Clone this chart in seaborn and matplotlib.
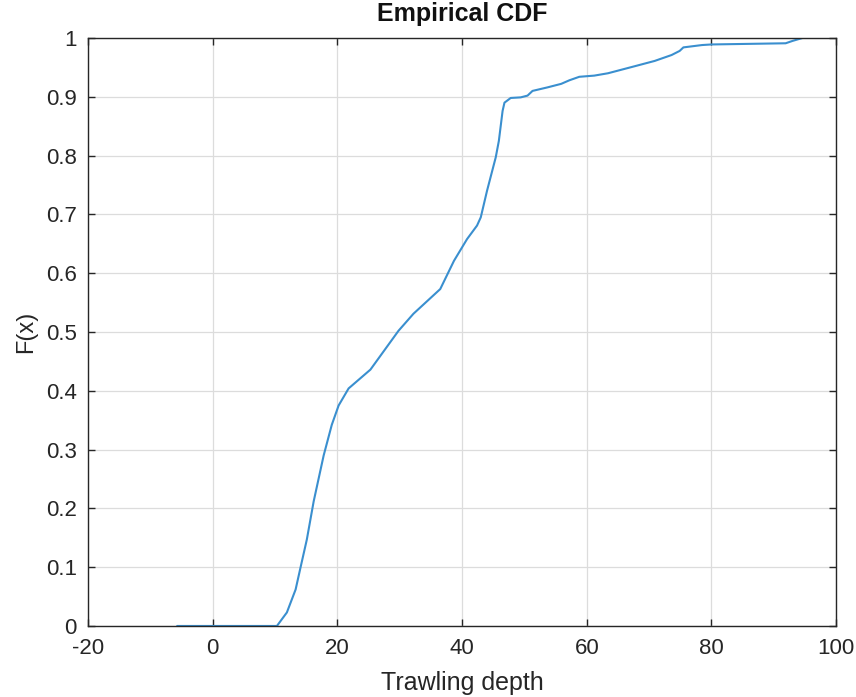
import matplotlib
matplotlib.use("Agg")
import matplotlib.pyplot as plt
import seaborn as sns
import pandas as pd

# ── Curve (depth, F(x)) ───────────────────────────────────────────────────────
depth = [-5.7, 10.3, 11.9, 13.3, 14.1, 15.1, 16.2, 17.8, 19.1, 20.2, 21.8,
         25.3, 29.8, 32.2, 36.5, 38.7, 40.8, 42.4, 43.0, 44.0, 45.4, 45.9,
         46.5, 46.8, 47.8, 49.4, 50.5, 51.3, 53.7, 55.9, 57.2, 58.8, 61.2,
         63.4, 67.7, 70.9, 73.6, 74.9, 75.5, 78.5, 80.0, 91.9, 93.0, 94.6]
cdf = [0.0, 0.0, 0.023, 0.062, 0.10, 0.147, 0.212, 0.29, 0.342, 0.375, 0.404,
       0.436, 0.502, 0.531, 0.573, 0.621, 0.658, 0.681, 0.695, 0.740, 0.797,
       0.825, 0.876, 0.890, 0.898, 0.899, 0.902, 0.910, 0.916, 0.922, 0.928,
       0.934, 0.936, 0.940, 0.952, 0.961, 0.971, 0.978, 0.984, 0.988, 0.989,
       0.991, 0.995, 1.0]

x_ticks = [-20, 0, 20, 40, 60, 80, 100]
y_ticks = [0, 0.1, 0.2, 0.3, 0.4, 0.5, 0.6, 0.7, 0.8, 0.9, 1]
y_labels = ["0", "0.1", "0.2", "0.3", "0.4", "0.5", "0.6", "0.7", "0.8", "0.9", "1"]

sns.set_theme(style="white")
plt.rcParams["font.family"] = ["Liberation Sans", "DejaVu Sans"]

df = pd.DataFrame({"depth": depth, "F": cdf})

fig = plt.figure(figsize=(8.56, 6.97), dpi=100)
ax = fig.add_axes([0.1028, 0.1019, 0.874, 0.8436])

sns.lineplot(data=df, x="depth", y="F", estimator=None, sort=False,
             color="#3A8FCF", linewidth=1.5, ax=ax)

ax.set_xlim(-20, 100)
ax.set_ylim(0, 1)
ax.set_xticks(x_ticks)
ax.set_xticklabels([str(t) for t in x_ticks])
ax.set_yticks(y_ticks)
ax.set_yticklabels(y_labels)
ax.grid(True, color="#dcdcdc", linewidth=0.9)
ax.set_axisbelow(True)

for s in ax.spines.values():
    s.set_visible(True)
    s.set_color("#262626")
    s.set_linewidth(1.0)

ax.tick_params(direction="in", length=5, width=1.0, color="#262626",
               labelsize=16, labelcolor="#262626", top=True, right=True,
               bottom=True, left=True)
ax.tick_params(axis="x", pad=9)
ax.tick_params(axis="y", pad=8)

ax.set_xlabel("Trawling depth", fontsize=18, color="#262626", labelpad=8)
ax.set_ylabel("F(x)", fontsize=17, color="#262626", labelpad=6)
ax.set_title("Empirical CDF", fontsize=18, fontweight="bold", color="#111111", pad=12)

fig.savefig("out.png", dpi=100)
